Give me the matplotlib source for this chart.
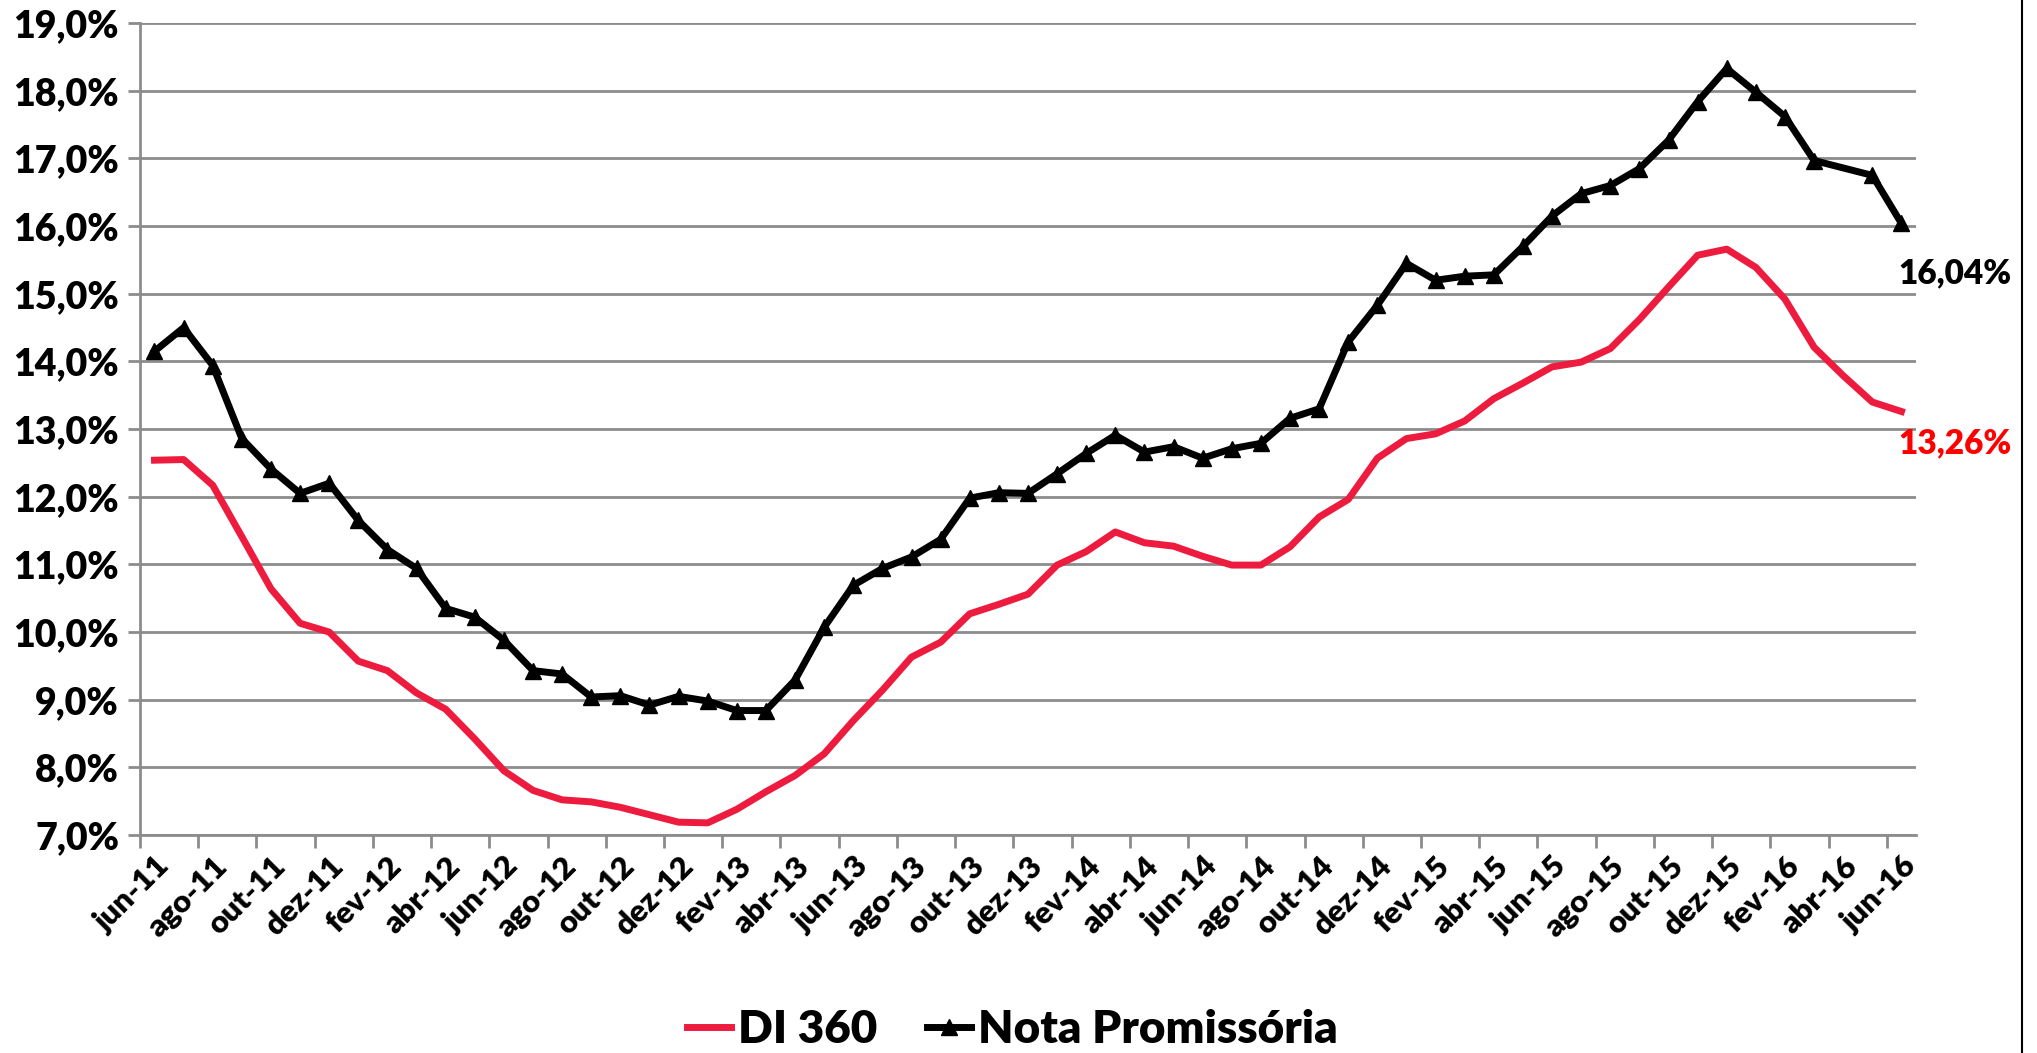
import numpy as np
import matplotlib
matplotlib.use('Agg')
import matplotlib.pyplot as plt
from matplotlib.lines import Line2D
from matplotlib.ticker import FuncFormatter, MultipleLocator

plt.rcParams['font.family'] = ['Lato', 'DejaVu Sans']
plt.rcParams['font.weight'] = 'heavy'

# meses de jun-11 a jun-16 (61 pontos mensais)
rotulos_x = ['jun-11', 'ago-11', 'out-11', 'dez-11', 'fev-12', 'abr-12', 'jun-12', 'ago-12',
             'out-12', 'dez-12', 'fev-13', 'abr-13', 'jun-13', 'ago-13', 'out-13', 'dez-13',
             'fev-14', 'abr-14', 'jun-14', 'ago-14', 'out-14', 'dez-14', 'fev-15', 'abr-15',
             'jun-15', 'ago-15', 'out-15', 'dez-15', 'fev-16', 'abr-16', 'jun-16']

di360 = [12.54, 12.55, 12.17, 11.41, 10.64, 10.13, 10.00, 9.57, 9.43, 9.10,
         8.86, 8.42, 7.95, 7.66, 7.52, 7.49, 7.41, 7.30, 7.19, 7.18,
         7.38, 7.64, 7.88, 8.20, 8.69, 9.14, 9.63, 9.85, 10.27, 10.41,
         10.56, 10.99, 11.19, 11.48, 11.32, 11.27, 11.12, 10.99, 10.99, 11.26,
         11.70, 11.96, 12.57, 12.86, 12.93, 13.12, 13.45, 13.68, 13.92, 13.99,
         14.19, 14.62, 15.10, 15.57, 15.66, 15.39, 14.92, 14.21, 13.79, 13.40, 13.26]

# abr-16 sem valor na série de NP
nota_promissoria = [14.15, 14.50, 13.94, 12.86, 12.41, 12.05, 12.20, 11.65, 11.22, 10.94,
                    10.35, 10.22, 9.88, 9.43, 9.38, 9.04, 9.06, 8.92, 9.05, 8.98,
                    8.84, 8.84, 9.29, 10.07, 10.69, 10.94, 11.11, 11.37, 11.98, 12.06,
                    12.05, 12.34, 12.64, 12.91, 12.66, 12.74, 12.57, 12.71, 12.79, 13.16,
                    13.30, 14.29, 14.83, 15.45, 15.20, 15.26, 15.28, 15.70, 16.15, 16.48,
                    16.60, 16.85, 17.27, 17.84, 18.33, 17.98, 17.62, 16.97, None, 16.75, 16.04]

x = np.arange(len(di360))
di = np.array(di360, dtype=float)
npm = np.array([np.nan if v is None else v for v in nota_promissoria], dtype=float)
ok = ~np.isnan(npm)

cinza = '#8c8c8c'
vermelho = '#ED1B3E'

fig = plt.figure(figsize=(20.37, 10.53), dpi=100)
ax = fig.add_axes([0.0687, 0.207, 0.8719, 0.771])

ax.plot(x, di, color=vermelho, lw=5, label='DI 360', zorder=3)
ax.plot(x[ok], npm[ok], color='black', lw=5, marker='^', markersize=11,
        label='Nota Promissória', zorder=4)

ax.set_xlim(-0.5, len(x) - 0.5)
ax.set_ylim(7, 19)
ax.yaxis.set_major_locator(MultipleLocator(1))
ax.yaxis.set_major_formatter(FuncFormatter(lambda v, p: f'{v:.1f}%'.replace('.', ',')))
ax.grid(axis='y', color=cinza, lw=2)
ax.set_axisbelow(True)

# rótulos a cada 2 meses, marcas entre categorias
ax.set_xticks(np.arange(-0.5, len(x), 2))
ax.set_xticklabels([])
ax.set_xticks(np.arange(0, len(x), 2), minor=True)
ax.set_xticklabels(rotulos_x, minor=True, rotation=45, ha='right', rotation_mode='anchor',
                   fontsize=22.5, fontweight='heavy')
ax.tick_params(axis='x', which='minor', length=0, pad=12)
ax.tick_params(axis='x', which='major', length=9, width=2, color=cinza)
ax.tick_params(axis='y', length=9, width=2, color=cinza, labelsize=27, pad=6)

for s in ['top', 'right']:
    ax.spines[s].set_visible(False)
for s in ['left', 'bottom']:
    ax.spines[s].set_color(cinza)
    ax.spines[s].set_linewidth(2)

ult = len(x) - 1
ax.annotate(f'{npm[ult]:.2f}%'.replace('.', ','), (x[ult], npm[ult]), xytext=(-2, -36),
            textcoords='offset points', ha='left', va='center', fontsize=24,
            fontweight='heavy', color='black')
ax.annotate(f'{di[ult]:.2f}%'.replace('.', ','), (x[ult], di[ult]), xytext=(-2, -23),
            textcoords='offset points', ha='left', va='center', fontsize=24,
            fontweight='heavy', color='red')

fig.legend(loc='center', bbox_to_anchor=(0.497, 0.022), ncol=2, frameon=False,
           handlelength=0.95, handletextpad=0.15, columnspacing=1.1,
           prop={'weight': 'heavy', 'size': 33})

# borda direita do gráfico
fig.add_artist(Line2D([0.9926, 0.9926], [0, 1], transform=fig.transFigure, color='black', lw=1.5))

fig.savefig('out.png', dpi=100)
